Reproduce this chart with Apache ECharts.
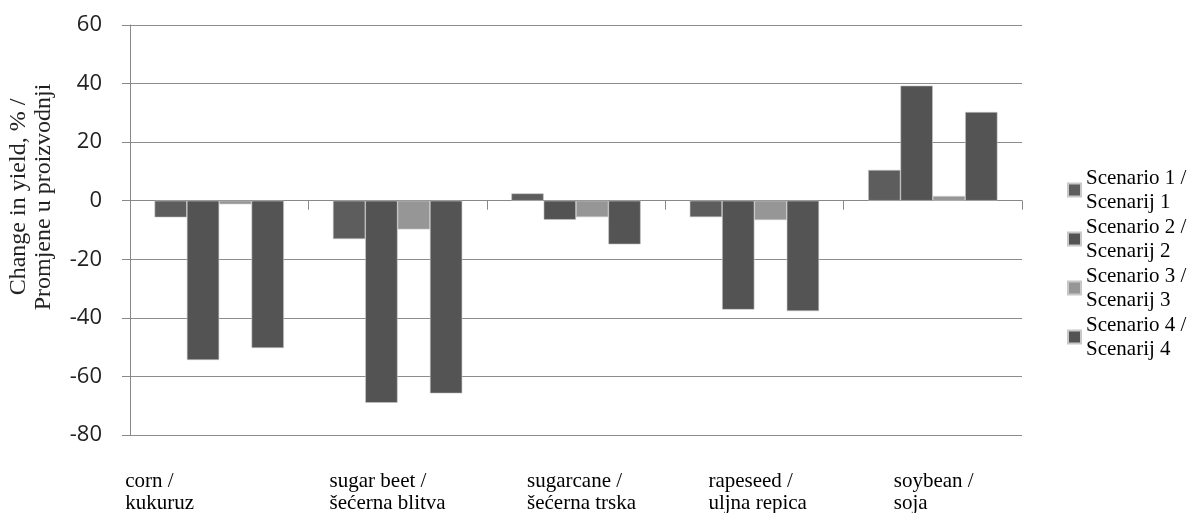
<!DOCTYPE html>
<html>
<head>
<meta charset="utf-8">
<script src="https://cdn.jsdelivr.net/npm/echarts@6/dist/echarts.min.js"></script>
<style>html,body{margin:0;padding:0;background:#fff;}#c{width:1192px;height:513px;}</style>
</head>
<body>
<div id="c"></div>
<script>
const categories = ['corn /\nkukuruz', 'sugar beet /\nšećerna blitva', 'sugarcane /\nšećerna trska', 'rapeseed /\nuljna repica', 'soybean /\nsoja'];
const seriesNames = ['Scenario 1 /\nScenarij 1', 'Scenario 2 /\nScenarij 2', 'Scenario 3 /\nScenarij 3', 'Scenario 4 /\nScenarij 4'];
const scenario1 = [-5.7, -13.1, 2.5, -5.6, 10.5];
const scenario2 = [-54.4, -69.0, -6.5, -37.2, 39.3];
const scenario3 = [-1.2, -9.8, -5.6, -6.6, 1.6];
const scenario4 = [-50.3, -65.8, -14.9, -37.7, 30.3];
const yTicks = { min: -80, max: 60, interval: 20 };
const yAxisTitle = 'Change in yield, % /\nPromjene u proizvodnji';

// style: label box widths to emulate the left-aligned Excel label placement
const labelBoxWidths = [188, 136, 98, 92, 78];
const colors = ['#5d5d5d', '#535353', '#969696', '#545454'];

const rich = {};
labelBoxWidths.forEach((w, i) => {
  rich['c' + i] = { width: w, align: 'left', fontFamily: 'Liberation Serif', fontSize: 21, lineHeight: 22, color: '#000' };
});

const chart = echarts.init(document.getElementById('c'), null, { renderer: 'canvas' });
const allData = [scenario1, scenario2, scenario3, scenario4];
chart.setOption({
  animation: false,
  backgroundColor: '#fff',
  grid: { left: 130, right: 170, top: 25, bottom: 78, containLabel: false, outerBoundsMode: 'none' },
  legend: {
    orient: 'vertical',
    left: 1062,
    top: 161,
    itemWidth: 13,
    itemHeight: 13,
    itemGap: 1,
    icon: 'rect',
    textStyle: { fontFamily: 'Liberation Serif', fontSize: 21, lineHeight: 24, color: '#000' },
    data: seriesNames
  },
  xAxis: [
    {
      type: 'category',
      data: categories,
      axisLine: { onZero: true, lineStyle: { color: '#888', width: 1 } },
      axisTick: { show: true, length: 9, lineStyle: { color: '#888' } },
      axisLabel: { show: false },
      splitLine: { show: false }
    },
    {
      type: 'category',
      data: categories,
      position: 'bottom',
      axisLine: { show: false, onZero: false },
      axisTick: { show: false },
      axisLabel: {
        show: true,
        margin: 35,
        interval: 0,
        formatter: (v, i) => v.split('\n').map(s => '{c' + i + '|' + s + '}').join('\n'),
        rich: rich
      }
    }
  ],
  yAxis: {
    type: 'value',
    min: yTicks.min,
    max: yTicks.max,
    interval: yTicks.interval,
    name: yAxisTitle,
    nameLocation: 'middle',
    nameGap: 74,
    nameRotate: 90,
    nameTextStyle: { fontFamily: 'Liberation Serif', fontSize: 24, lineHeight: 25, color: '#222', padding: [0, 0, 0, 66] },
    axisLine: { show: true, lineStyle: { color: '#888', width: 1 } },
    axisTick: { show: true, length: 8, lineStyle: { color: '#888' } },
    axisLabel: { margin: 28, fontFamily: 'Open Sans', fontSize: 22, color: '#222' },
    splitLine: { show: true, lineStyle: { color: '#8c8c8c', width: 1 } }
  },
  series: allData.map((d, k) => ({
    name: seriesNames[k],
    type: 'bar',
    data: d,
    barGap: '0%',
    barCategoryGap: '27.5%',
    itemStyle: { color: colors[k], borderColor: '#c8c8c8', borderWidth: 0.6 },
    emphasis: { disabled: true }
  }))
});
</script>
</body>
</html>
